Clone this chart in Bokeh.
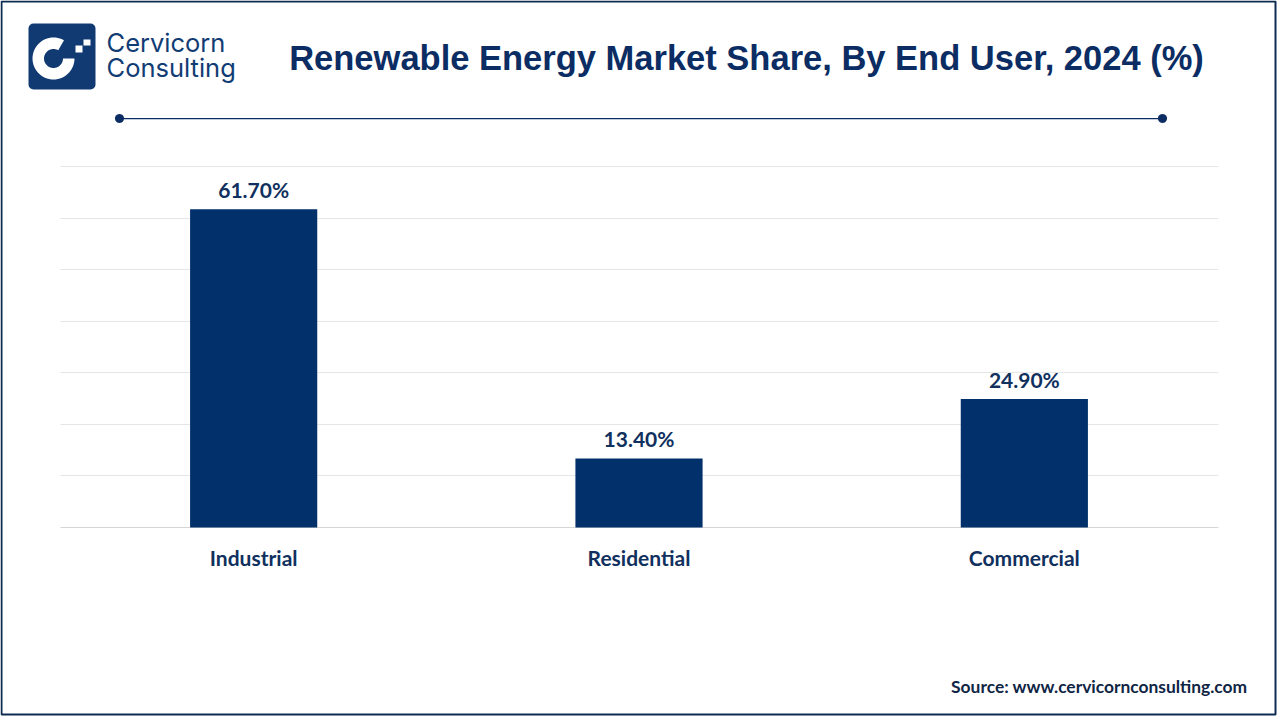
import math
from bokeh.plotting import figure
from bokeh.models import (ColumnDataSource, FactorRange, Range1d, FixedTicker,
                          Label, BoxAnnotation, PolyAnnotation, Grid)
from bokeh.core.properties import value
from bokeh.embed import file_html
from bokeh.resources import INLINE

# ---- data ----
categories = ["Industrial", "Residential", "Commercial"]
shares = [61.7, 13.4, 24.9]
share_labels = ["61.70%", "13.40%", "24.90%"]
grid_ticks = [10, 20, 30, 40, 50, 60, 70]
baseline_tick = [0]

title_text = "Renewable Energy Market Share, By End User, 2024 (%)"
source_text = "Source: www.cervicornconsulting.com"
logo_lines = ["Cervicorn", "Consulting"]

NAVY = "#0b2d63"
BAR = "#01306a"
TXT = "#10305e"

W, H = 1280, 720
RB = 3                      # right border of canvas outside the frame
FW = W - RB                 # frame width
# chart area in canvas pixels
CL, CR, CT, CB = 60, 1216, 166, 527
YMAX = 70
k = (CB - CT) / YMAX
y0 = -(H - CB) / k
y1 = YMAX + CT / k
pad = (FW - (CR - CL)) / (CR - CL)

p = figure(width=W, height=H, output_backend="svg", toolbar_location=None,
           x_range=FactorRange(factors=categories, range_padding=pad),
           y_range=Range1d(y0, y1),
           min_border=0, min_border_left=0, min_border_right=RB,
           min_border_top=0, min_border_bottom=0)
p.outline_line_color = None
p.background_fill_color = "white"
p.border_fill_color = "white"

p.yaxis.visible = False
p.xgrid.visible = False
p.ygrid.ticker = FixedTicker(ticks=grid_ticks)
p.ygrid.grid_line_color = "#e6e6e6"
p.ygrid.grid_line_width = 1
p.add_layout(Grid(dimension=1, ticker=FixedTicker(ticks=baseline_tick),
                  grid_line_color="#d6d6d6", grid_line_width=1))

src = ColumnDataSource(dict(cat=categories, val=shares, lab=share_labels))
p.vbar(x="cat", top="val", width=0.33, source=src, fill_color=BAR, line_color=None)
p.text(x="cat", y="val", text="lab", source=src, text_align="center",
       text_baseline="bottom", y_offset=-7, text_font=value("Lato"),
       text_font_style="bold", text_font_size="21px", text_color=TXT)

xa = p.xaxis[0]
xa.fixed_location = 0
xa.axis_line_color = None
xa.major_tick_line_color = None
xa.minor_tick_line_color = None
xa.major_tick_out = 0
xa.major_tick_in = 0
xa.major_label_standoff = 17
xa.major_label_text_font = "Lato"
xa.major_label_text_font_style = "bold"
xa.major_label_text_font_size = "21px"
xa.major_label_text_color = TXT


def sx(x):
    return x


def sy(y):
    return H - y


def box(l, t, r, b, **kw):
    return BoxAnnotation(left=sx(l), right=sx(r), top=sy(t), bottom=sy(b),
                         left_units="screen", right_units="screen",
                         top_units="screen", bottom_units="screen", **kw)


# white masks so grid lines only span the chart area
p.add_layout(box(0, CT - 5, CL, CB + 5, fill_color="white", fill_alpha=1,
                 line_color=None, level="annotation"))
p.add_layout(box(CR + 2, CT - 5, W, CB + 5, fill_color="white", fill_alpha=1,
                 line_color=None, level="annotation"))

# outer border
p.add_layout(box(1, 1, 1275, 714, fill_color=None, fill_alpha=0,
                 line_color="#0d2b4e", line_alpha=1, line_width=2, level="overlay"))

# logo square
p.add_layout(box(28, 23, 95, 89, fill_color="#113a72", fill_alpha=1,
                 line_color=None, border_radius=5, level="overlay"))
# logo ring "C"
cx, cy, ro, ri = 53, 58, 21, 9.5
angs = [math.radians(a) for a in range(60, 361, 6)]
xs = [sx(cx + ro * math.cos(a)) for a in angs] + [sx(cx + ri * math.cos(a)) for a in reversed(angs)]
ys = [sy(cy - ro * math.sin(a)) for a in angs] + [sy(cy - ri * math.sin(a)) for a in reversed(angs)]
p.add_layout(PolyAnnotation(xs=xs, ys=ys, xs_units="screen", ys_units="screen",
                            fill_color="white", fill_alpha=1, line_color=None,
                            level="overlay"))
for (l, t, r, b) in [(75, 45, 82, 52), (83, 39, 90, 45)]:
    p.add_layout(box(l, t, r, b, fill_color="white", fill_alpha=1,
                     line_color=None, level="overlay"))

# logo text
for txt, yy in zip(logo_lines, [42, 67]):
    p.add_layout(Label(x=sx(106), y=sy(yy), x_units="screen", y_units="screen",
                       text=txt, text_font="Inter", text_font_size="25.5px",
                       text_font_style="normal",
                       text_color="#123c74", text_baseline="middle", text_align="left"))

# title
p.add_layout(Label(x=sx(746), y=sy(57), x_units="screen", y_units="screen",
                   text=title_text, text_font="Liberation Sans", text_font_style="bold",
                   text_font_size="34.5px", text_color=NAVY,
                   text_baseline="middle", text_align="center"))

# decorative line with dots
p.add_layout(box(119, 117.5, 1162, 118.7, fill_color=NAVY, fill_alpha=1,
                 line_color=None, level="overlay"))
for dx in [119, 1162]:
    dots_a = [math.radians(a) for a in range(0, 360, 15)]
    p.add_layout(PolyAnnotation(xs=[sx(dx + 4.5 * math.cos(a)) for a in dots_a],
                                ys=[sy(118 + 4.5 * math.sin(a)) for a in dots_a],
                                xs_units="screen", ys_units="screen",
                                fill_color=NAVY, fill_alpha=1, line_color=None,
                                level="overlay"))

# source
p.add_layout(Label(x=sx(1247), y=sy(686), x_units="screen", y_units="screen",
                   text=source_text, text_font="Lato", text_font_style="bold",
                   text_font_size="17.4px", text_color="#0f2544",
                   text_baseline="middle", text_align="right"))

open("out.html", "w").write(file_html(p, INLINE))
